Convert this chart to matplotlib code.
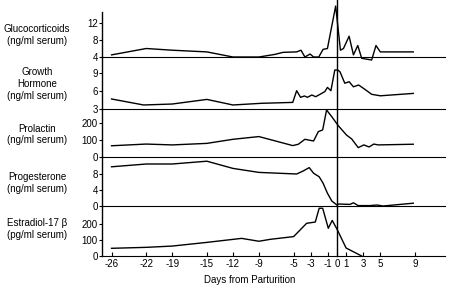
import matplotlib.pyplot as plt
import numpy as np

plt.rcParams['font.family'] = ['Liberation Sans', 'DejaVu Sans']

# days from parturition and values
gluco_days = [-26, -22, -19, -15, -12, -9, -7.2, -6.2, -4.65, -4.15, -3.7, -3.1, -2.7, -2.1,
              -1.6, -1.1, -0.15, 0.4, 0.75, 1.4, 1.9, 2.4, 2.85, 3.4, 4.0, 4.5, 5.0, 8.8]
gluco_vals = [4.5, 6.0, 5.6, 5.2, 4.0, 4.0, 4.6, 5.1, 5.2, 5.6, 4.0, 4.7, 4.0, 4.0,
              5.8, 6.0, 16.0, 5.6, 6.0, 8.9, 4.5, 6.7, 3.7, 3.5, 3.3, 6.7, 5.2, 5.2]

gh_days = [-26, -22.3, -19, -15, -12, -8.7, -5.1, -4.65, -4.2, -3.75, -3.4, -2.9, -2.45, -1.95,
           -1.4, -1.1, -0.7, -0.25, 0.1, 0.35, 0.9, 1.4, 1.9, 2.5, 3.2, 4.0, 5.0, 8.8]
gh_vals = [4.67, 3.67, 3.83, 4.6, 3.67, 3.95, 4.1, 6.05, 4.95, 5.17, 4.95, 5.33, 5.05, 5.45,
           5.9, 6.6, 6.05, 9.5, 9.5, 9.2, 7.3, 7.55, 6.7, 7.0, 6.3, 5.45, 5.2, 5.6]

prl_days = [-26, -22, -19, -15, -12, -9, -5.1, -4.45, -3.7, -2.7, -2.15, -1.65, -1.2, -0.6,
            0.15, 1.1, 1.7, 2.45, 3.1, 3.7, 4.25, 4.75, 8.8]
prl_vals = [66, 76, 71, 80, 104, 120, 67, 75, 104, 94, 149, 159, 276, 237,
            184, 129, 106, 55, 71, 59, 76, 71, 75]

prog_days = [-26, -22, -19, -15, -12, -9, -4.65, -3.9, -3.2, -2.7, -2.05, -1.6, -1.1, -0.6,
             0, 0.15, 1.5, 1.9, 2.45, 3.8, 4.6, 5.3, 8.8]
prog_vals = [9.8, 10.5, 10.5, 11.2, 9.4, 8.4, 8.0, 8.75, 9.6, 8.2, 7.3, 5.7, 3.2, 1.25,
             0.25, 0.5, 0.4, 0.8, 0.1, 0.1, 0.25, 0.0, 0.7]

e2_days = [-26, -22, -19, -15, -11, -9, -7.7, -5.0, -3.5, -2.5, -2.05, -1.65, -1.0, -0.55,
           0, 1.05, 2.85]
e2_vals = [48, 54, 62, 85, 110, 92, 104, 121, 204, 212, 298, 298, 173, 222,
           168, 50, 0]

xticks = [-26, -22, -19, -15, -12, -9, -5, -3, -1, 0, 1, 3, 5, 9]

panels = [
    ("Glucocorticoids\n(ng/ml serum)", gluco_days, gluco_vals, (4, 14.6), [4, 8, 12], 35),
    ("Growth\nHormone\n(ng/ml serum)", gh_days, gh_vals, (3, 11.67), [3, 6, 9], 84),
    ("Prolactin\n(ng/ml serum)", prl_days, prl_vals, (0, 282), [0, 100, 200], 134.5),
    ("Progesterone\n(ng/ml serum)", prog_days, prog_vals, (0, 12.25), [0, 4, 8], 183),
    ("Estradiol-17 \u03b2\n(pg/ml serum)", e2_days, e2_vals, (0, 312), [0, 100, 200], 229),
]
# panel pixel bounds (top, bottom) in a 286 px high figure
bounds = [(12, 57), (57, 109), (109, 157), (157, 206), (206, 256)]

W, H = 455, 286
fig = plt.figure(figsize=(W / 100, H / 100), dpi=100)

x0, x1 = 102, 445
for i, ((label, days, vals, ylim, yt, ly), (top, bot)) in enumerate(zip(panels, bounds)):
    ax = fig.add_axes([x0 / W, 1 - bot / H, (x1 - x0) / W, (bot - top) / H])
    ax.plot(days, vals, color='black', lw=1.0, clip_on=False)
    ax.set_xlim(-27.1, 12.46)
    ax.set_ylim(*ylim)
    ax.set_yticks(yt)
    ax.set_yticklabels([str(v) for v in yt], fontsize=7)
    for s in ['top', 'right']:
        ax.spines[s].set_visible(False)
    ax.spines['left'].set_linewidth(1.0)
    ax.spines['bottom'].set_linewidth(0.8)
    ax.tick_params(axis='y', direction='out', length=2, width=0.8, pad=1)
    ax.patch.set_alpha(0)
    ymax = 1 + top / (bot - top) if i == 0 else 1
    ax.axvline(0, ymin=0, ymax=ymax, color='black', lw=1.0, clip_on=False)
    fig.text(37 / W, 1 - ly / H, label, ha='center', va='center', fontsize=7, linespacing=1.2)
    if i < 4:
        ax.set_xticks([])
    else:
        ax.set_xticks(xticks)
        ax.set_xticklabels([str(t) for t in xticks], fontsize=7)
        ax.tick_params(axis='x', direction='in', length=3, width=0.8, pad=2)

fig.text(250 / W, 1 - 280 / H, "Days from Parturition", ha='center', va='center', fontsize=7)

fig.savefig('out.png', dpi=100)
